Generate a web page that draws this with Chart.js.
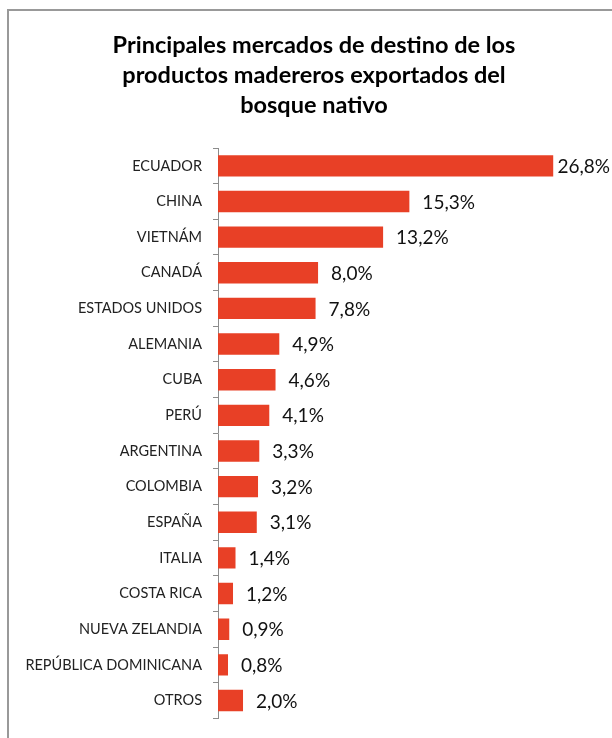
<!DOCTYPE html>
<html>
<head>
<meta charset="utf-8">
<script src="https://cdn.jsdelivr.net/npm/chart.js@4.4.1/dist/chart.umd.min.js"></script>
<style>
    html, body { margin: 0; padding: 0; background: #fff; overflow: hidden; }
    #marco {
        position: absolute; left: 7px; top: 9px; width: 700px; height: 800px;
        border: 2px solid #999; box-sizing: border-box;
    }
    #contenedor { position: absolute; left: 0; top: 0; width: 612px; height: 738px; }
</style>
</head>
<body>
<div id="marco"></div>
<div id="contenedor"><canvas id="mercadosChart"></canvas></div>
<script>
const titulo = ['Principales mercados de destino de los', 'productos madereros exportados del', 'bosque nativo'];
const paises = ['ECUADOR', 'CHINA', 'VIETNÁM', 'CANADÁ', 'ESTADOS UNIDOS', 'ALEMANIA', 'CUBA', 'PERÚ',
    'ARGENTINA', 'COLOMBIA', 'ESPAÑA', 'ITALIA', 'COSTA RICA', 'NUEVA ZELANDIA', 'REPÚBLICA DOMINICANA', 'OTROS'];
const porcentajes = [26.8, 15.3, 13.2, 8.0, 7.8, 4.9, 4.6, 4.1, 3.3, 3.2, 3.1, 1.4, 1.2, 0.9, 0.8, 2.0];

const FUENTE = 'Lato, "Open Sans", sans-serif';

// etiquetas de datos al final de cada barra (formato 26,8%)
const etiquetasBarras = {
    id: 'etiquetasBarras',
    afterDatasetsDraw(chart) {
        const ctx = chart.ctx;
        const meta = chart.getDatasetMeta(0);
        ctx.save();
        ctx.font = '19px ' + FUENTE;
        ctx.fillStyle = '#111';
        ctx.textBaseline = 'middle';
        ctx.textAlign = 'left';
        meta.data.forEach((bar, i) => {
            const texto = porcentajes[i].toFixed(1).replace('.', ',') + '%';
            const ancho = ctx.measureText(texto).width;
            let x = bar.x + 13;
            if (x + ancho > chart.width - 2) x = Math.max(bar.x + 3, chart.width - 2 - ancho);
            ctx.fillText(texto, x, bar.y + 1);
        });
        ctx.restore();
    }
};

const ctx = document.getElementById('mercadosChart').getContext('2d');
new Chart(ctx, {
    type: 'bar',
    data: {
        labels: paises,
        datasets: [{
            data: porcentajes,
            backgroundColor: 'rgb(232, 64, 38)',
            borderWidth: 0,
            barPercentage: 0.6,
            categoryPercentage: 1
        }]
    },
    options: {
        indexAxis: 'y',
        responsive: true,
        maintainAspectRatio: false,
        animation: false,
        layout: { padding: { top: 30, bottom: 16, left: 16, right: 0 } },
        plugins: {
            legend: { display: false },
            tooltip: { enabled: false },
            title: {
                display: true,
                text: titulo,
                color: '#000',
                font: { family: FUENTE, size: 23.5, weight: 'bold', lineHeight: 1.277 },
                padding: { top: 0, bottom: 28 }
            }
        },
        scales: {
            x: { display: false, min: 0, max: 31.5 },
            y: {
                afterFit: function (scale) { scale.width = 202; },
                border: { display: true, color: '#8c8c8c', width: 1 },
                grid: {
                    offset: true,
                    drawOnChartArea: false,
                    drawTicks: true,
                    tickLength: 5,
                    color: '#8c8c8c'
                },
                ticks: {
                    padding: 11,
                    color: '#222',
                    font: { family: FUENTE, size: 14.5 },
                    autoSkip: false
                }
            }
        }
    },
    plugins: [etiquetasBarras]
});
</script>
</body>
</html>
